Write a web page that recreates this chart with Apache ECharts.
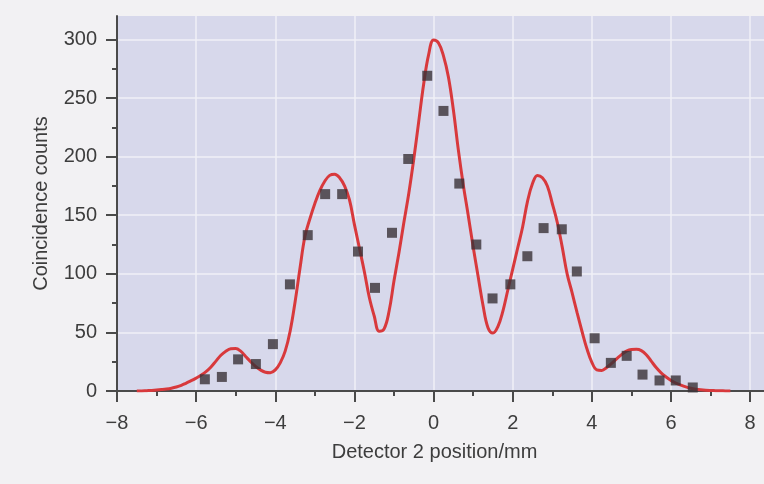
<!DOCTYPE html>
<html>
<head>
<meta charset="utf-8">
<script src="https://cdn.jsdelivr.net/npm/echarts@6/dist/echarts.min.js"></script>
<style>
  html, body { margin: 0; padding: 0; background: #f2f1f3; }
  #chart { width: 764px; height: 484px; }
</style>
</head>
<body>
<div id="chart"></div>
<script>
// fitted curve (every 0.125 mm)
const fitX = [
  -7.5, -7.375, -7.25, -7.125, -7, -6.875, -6.75, -6.625, -6.5, -6.375, -6.25, -6.125,
  -6, -5.875, -5.75, -5.625, -5.5, -5.375, -5.25, -5.125, -5, -4.875, -4.75, -4.625,
  -4.5, -4.375, -4.25, -4.125, -4, -3.875, -3.75, -3.625, -3.5, -3.375, -3.25, -3.125,
  -3, -2.875, -2.75, -2.625, -2.5, -2.375, -2.25, -2.125, -2, -1.875, -1.75, -1.625,
  -1.5, -1.375, -1.25, -1.125, -1, -0.875, -0.75, -0.625, -0.5, -0.375, -0.25, -0.125,
  0, 0.125, 0.25, 0.375, 0.5, 0.625, 0.75, 0.875, 1, 1.125, 1.25, 1.375,
  1.5, 1.625, 1.75, 1.875, 2, 2.125, 2.25, 2.375, 2.5, 2.625, 2.75, 2.875,
  3, 3.125, 3.25, 3.375, 3.5, 3.625, 3.75, 3.875, 4, 4.125, 4.25, 4.375,
  4.5, 4.625, 4.75, 4.875, 5, 5.125, 5.25, 5.375, 5.5, 5.625, 5.75, 5.875,
  6, 6.125, 6.25, 6.375, 6.5, 6.625, 6.75, 6.875, 7, 7.125, 7.25, 7.375, 7.5];
const fitY = [
  0, 0.1, 0.3, 0.5, 0.8, 1.2, 1.7, 2.4, 3.4, 4.8, 6.8, 8.8,
  11, 13.5, 16.5, 20.5, 25.5, 30.5, 34, 36, 36.2, 34, 29.5, 25,
  21, 18, 16, 15.6, 18, 24, 34, 51, 76, 105, 132, 147,
  160, 171, 179, 184, 185, 182, 175, 163, 142, 122, 102, 80,
  64, 51, 53, 68, 94, 118, 144, 169, 198, 230, 262, 287,
  299.5, 297, 286, 268, 240, 206, 176, 150, 123, 98, 73, 54,
  49.5, 55, 68, 86, 104, 122, 140, 162, 177, 184, 182, 175,
  160, 144, 123, 100, 84, 67, 51, 36, 24.5, 18, 17.5, 20,
  23.5, 27.5, 31, 34, 35.4, 35.6, 34.5, 31, 25.5, 20, 15.5, 12,
  9, 6.8, 5, 3.5, 2.4, 1.6, 1, 0.6, 0.4, 0.3, 0.2, 0.1, 0];

// measured counts
const posX = [-5.78, -5.35, -4.94, -4.49, -4.06, -3.63, -3.18, -2.74, -2.31, -1.91, -1.48, -1.05, -0.64, -0.16,
  0.25, 0.65, 1.08, 1.49, 1.94, 2.37, 2.78, 3.24, 3.62, 4.07, 4.48, 4.88, 5.28, 5.71, 6.12, 6.55];
const counts = [10, 12, 27, 23, 40, 91, 133, 168, 168, 119, 88, 135, 198, 269,
  239, 177, 125, 79, 91, 115, 139, 138, 102, 45, 24, 30, 14, 9, 9, 3];

const xMajor = [-8, -6, -4, -2, 0, 2, 4, 6, 8];
const xMinor = [-7, -5, -3, -1, 1, 3, 5, 7];
const yMajor = [0, 50, 100, 150, 200, 250, 300];
const yMinor = [25, 75, 125, 175, 225, 275];

const axisCol = '#4a4a4a';
const txtCol = '#3d3d3d';
const font = 'Liberation Sans, Arial, sans-serif';

const chart = echarts.init(document.getElementById('chart'));
chart.setOption({
  animation: false,
  grid: {
    left: 117, right: 0, top: 16, bottom: 93,
    show: true, backgroundColor: '#d7d8eb', borderWidth: 0
  },
  xAxis: [{
    type: 'value', min: -8, max: 8.35, interval: 2,
    name: 'Detector 2 position/mm', nameLocation: 'middle', nameGap: 51,
    nameTextStyle: { fontSize: 20, color: txtCol, fontFamily: font, padding: [0, 12, 0, 0] },
    axisLine: { onZero: false, lineStyle: { color: axisCol, width: 2 } },
    axisTick: { customValues: xMajor, length: 11, lineStyle: { color: axisCol, width: 2 } },
    axisLabel: {
      customValues: xMajor, fontSize: 20, margin: 22, color: txtCol, fontFamily: font,
      formatter: v => (v < 0 ? '\u2212' + Math.abs(v) : '' + v)
    },
    splitLine: { show: true, lineStyle: { color: '#f0f0f7', width: 1.5 } }
  }, {
    type: 'value', min: -8, max: 8.35, position: 'bottom',
    axisLine: { show: false, onZero: false },
    axisTick: { customValues: xMinor, length: 5, lineStyle: { color: axisCol, width: 2 } },
    axisLabel: { show: false },
    splitLine: { show: false }
  }],
  yAxis: [{
    type: 'value', min: 0, max: 320, interval: 50, position: 'left',
    name: 'Coincidence counts', nameLocation: 'middle', nameGap: 66,
    nameTextStyle: { fontSize: 20, color: txtCol, fontFamily: font },
    axisLine: { show: true, onZero: false, lineStyle: { color: axisCol, width: 2 } },
    axisTick: { show: true, customValues: yMajor, length: 11, lineStyle: { color: axisCol, width: 2 } },
    axisLabel: { customValues: yMajor, fontSize: 20, margin: 20, color: txtCol, fontFamily: font },
    splitLine: { show: true, lineStyle: { color: '#f0f0f7', width: 1.5 } }
  }, {
    type: 'value', min: 0, max: 320, position: 'left',
    axisLine: { show: false, onZero: false },
    axisTick: { show: true, customValues: yMinor, length: 5, lineStyle: { color: axisCol, width: 2 } },
    axisLabel: { show: false },
    splitLine: { show: false }
  }],
  series: [{
    type: 'line',
    data: fitX.map((x, i) => [x, fitY[i]]),
    smooth: 0.4,
    showSymbol: false,
    lineStyle: { color: '#d8393c', width: 3 },
    z: 2
  }, {
    type: 'scatter',
    data: posX.map((x, i) => [x, counts[i]]),
    symbol: 'rect',
    symbolSize: 10,
    itemStyle: { color: '#3a3237' },
    z: 3
  }]
});
</script>
</body>
</html>
